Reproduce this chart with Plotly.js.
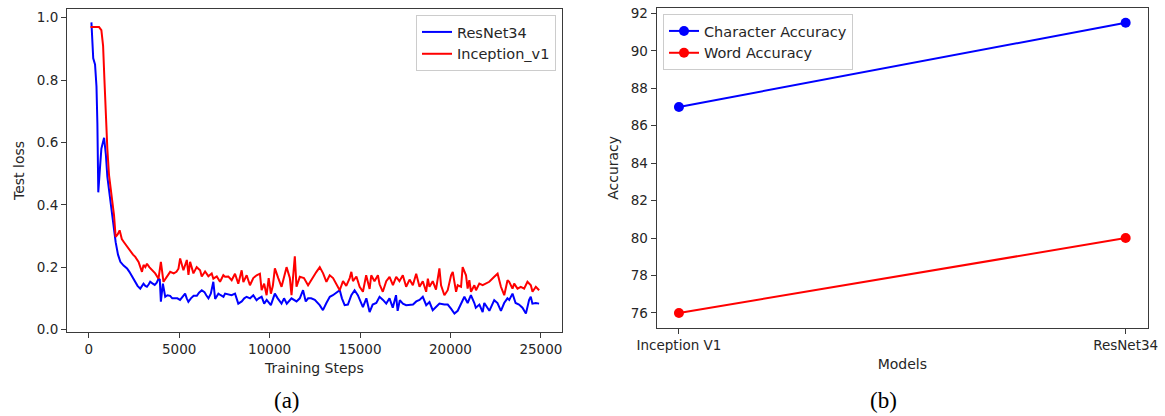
<!DOCTYPE html>
<html>
<head>
<meta charset="utf-8">
<script src="https://cdn.plot.ly/plotly-3.0.1.min.js"></script>
<style>
  html, body { margin: 0; padding: 0; background: #ffffff; }
  #chart { width: 1165px; height: 416px; }
</style>
</head>
<body>
<div id="chart"></div>
<script>
// ---------- Panel (a): test loss vs training steps ----------
const resnetSteps = [
  150, 250, 350, 430, 480, 530, 600, 700, 850, 950, 1030, 1120, 1210, 1350, 1490,
  1620, 1750, 1930, 2120, 2250, 2400, 2550, 2700, 2850, 2950, 3030, 3130, 3220, 3320, 3400, 3520, 3650, 3760, 3860, 3930, 3990,
  4100, 4230, 4350, 4500, 4620, 4780, 4900, 5050, 5200, 5330, 5420, 5510, 5650, 5800, 5980, 6100, 6250, 6400, 6500, 6620, 6750, 6890, 6990, 7170,
  7300, 7450, 7540, 7700, 7900, 8090, 8270, 8460, 8600, 8730, 8920, 9100, 9280, 9400, 9560, 9700, 9840, 10070, 10290, 10450, 10660, 10800, 10950, 11210, 11490, 11670, 11850, 12000, 12130, 12300, 12500, 12770, 12950, 13140, 13330,
  13500, 13700, 13880, 14000, 14150, 14330, 14520, 14700, 14880, 15160, 15350, 15530, 15700, 15900, 16080, 16270, 16450, 16630, 16810, 16990, 17080, 17200, 17370, 17550, 17740, 17930, 18110, 18290, 18470, 18660, 18840, 19020, 19200, 19390,
  19660, 19850, 20030, 20220, 20400, 20580, 20770, 20950, 21130, 21320, 21400, 21600, 21780, 21870, 22050, 22150, 22420, 22600, 22790, 22970, 23150, 23250, 23430, 23600, 23790, 23980, 24170, 24350, 24440, 24530, 24720, 24900
];
const resnetLoss = [
  0.985, 0.87, 0.85, 0.78, 0.66, 0.44, 0.50, 0.58, 0.615, 0.56, 0.49, 0.45, 0.41, 0.34, 0.28,
  0.24, 0.217, 0.205, 0.196, 0.185, 0.169, 0.155, 0.14, 0.131, 0.14, 0.147, 0.14, 0.137, 0.145, 0.153, 0.148, 0.143, 0.15, 0.163, 0.16, 0.089,
  0.147, 0.105, 0.11, 0.108, 0.1, 0.099, 0.1, 0.095, 0.105, 0.115, 0.1, 0.089, 0.1, 0.108, 0.108, 0.118, 0.126, 0.12, 0.11, 0.1, 0.115, 0.153, 0.098, 0.115,
  0.11, 0.105, 0.115, 0.112, 0.11, 0.115, 0.083, 0.09, 0.1, 0.105, 0.1, 0.11, 0.094, 0.1, 0.105, 0.083, 0.095, 0.078, 0.115, 0.1, 0.083, 0.1, 0.083, 0.1, 0.09, 0.1, 0.126, 0.09, 0.1, 0.1, 0.095, 0.078, 0.062, 0.085, 0.105,
  0.11, 0.118, 0.126, 0.1, 0.078, 0.08, 0.11, 0.126, 0.11, 0.072, 0.1, 0.056, 0.08, 0.085, 0.105, 0.095, 0.083, 0.1, 0.07, 0.11, 0.06, 0.094, 0.083, 0.078, 0.078, 0.08, 0.09, 0.095, 0.105, 0.078, 0.088, 0.062, 0.072, 0.083,
  0.08, 0.08, 0.067, 0.051, 0.06, 0.08, 0.105, 0.085, 0.11, 0.085, 0.07, 0.08, 0.056, 0.085, 0.07, 0.06, 0.094, 0.085, 0.06, 0.085, 0.1, 0.095, 0.115, 0.085, 0.08, 0.07, 0.051, 0.095, 0.105, 0.083, 0.085, 0.083
];
const inceptionSteps = [
  100, 200, 400, 570, 700, 795, 870, 940, 1030, 1125, 1250, 1400, 1490, 1600, 1710, 1830, 1950,
  2120, 2300, 2450, 2575, 2757, 2944, 3032, 3130, 3220, 3350, 3495, 3677, 3860, 3990, 4135, 4320, 4504, 4700, 4850, 4962, 5055, 5237, 5425, 5515, 5607, 5789, 5970, 6158, 6250, 6434, 6616, 6800, 6892, 7080, 7261, 7443,
  7536, 7720, 7905, 8088, 8270, 8457, 8550, 8733, 8914, 9100, 9284, 9466, 9560, 9700, 9835, 9950, 10072, 10180, 10293, 10480, 10662, 10850, 10938, 11120, 11213, 11395, 11488, 11671, 11900, 12128, 12360, 12591, 12774, 12960, 13143,
  13325, 13510, 13700, 13877, 14060, 14240, 14430, 14521, 14610, 14800, 14980, 15161, 15340, 15530, 15620, 15800, 15988, 16080, 16260, 16450, 16633, 16820, 17000, 17180, 17366, 17550, 17740, 17920, 18105, 18290, 18470, 18656, 18750, 18840, 19020, 19200, 19389,
  19480, 19665, 19848, 20034, 20127, 20218, 20310, 20402, 20585, 20674, 20860, 20950, 21043, 21136, 21320, 21413, 21596, 21780, 21963, 22146, 22422, 22606, 22790, 22973, 23155, 23247, 23430, 23522, 23706, 23890, 24074, 24257, 24444, 24536, 24720, 24903
];
const inceptionLoss = [
  0.97, 0.97, 0.972, 0.97, 0.96, 0.91, 0.8, 0.687, 0.58, 0.494, 0.43, 0.366, 0.297, 0.305, 0.318, 0.29, 0.28,
  0.265, 0.249, 0.24, 0.233, 0.217, 0.185, 0.207, 0.2, 0.211, 0.2, 0.19, 0.18, 0.163, 0.217, 0.153, 0.17, 0.185, 0.18, 0.185, 0.195, 0.228, 0.19, 0.223, 0.175, 0.217, 0.18, 0.2, 0.19, 0.17, 0.186, 0.171, 0.18, 0.163, 0.17, 0.153, 0.174,
  0.169, 0.17, 0.158, 0.179, 0.147, 0.19, 0.152, 0.174, 0.142, 0.165, 0.174, 0.179, 0.126, 0.147, 0.11, 0.165, 0.115, 0.14, 0.196, 0.165, 0.137, 0.18, 0.2, 0.165, 0.11, 0.235, 0.137, 0.169, 0.165, 0.142, 0.165, 0.185, 0.2, 0.18, 0.153,
  0.174, 0.165, 0.147, 0.126, 0.155, 0.14, 0.165, 0.185, 0.155, 0.17, 0.137, 0.121, 0.174, 0.13, 0.174, 0.155, 0.174, 0.145, 0.121, 0.155, 0.169, 0.142, 0.169, 0.155, 0.174, 0.137, 0.16, 0.142, 0.179, 0.137, 0.155, 0.121, 0.163, 0.137, 0.155, 0.128, 0.196,
  0.142, 0.11, 0.126, 0.174, 0.185, 0.153, 0.121, 0.142, 0.137, 0.2, 0.174, 0.131, 0.158, 0.121, 0.142, 0.126, 0.147, 0.142, 0.147, 0.153, 0.169, 0.179, 0.137, 0.11, 0.158, 0.153, 0.131, 0.147, 0.131, 0.137, 0.131, 0.153, 0.142, 0.121, 0.137, 0.126
];
const stepTicks = [0, 5000, 10000, 15000, 20000, 25000];
const stepTickText = ["0", "5000", "10000", "15000", "20000", "25000"];
const lossTicks = [0.0, 0.2, 0.4, 0.6, 0.8, 1.0];

// ---------- Panel (b): accuracy by model ----------
const models = ["Inception V1", "ResNet34"];
const characterAccuracy = [87, 91.5];
const wordAccuracy = [76, 80];
const accuracyTicks = [76, 78, 80, 82, 84, 86, 88, 90, 92];

const FONT = "DejaVu Sans, Arial, sans-serif";
const TXT = "#262626";
const W = 1165, H = 416;

const traces = [
  { x: resnetSteps, y: resnetLoss, type: "scatter", mode: "lines", name: "ResNet34",
    line: { color: "#0000ff", width: 2 }, xaxis: "x", yaxis: "y", legend: "legend" },
  { x: inceptionSteps, y: inceptionLoss, type: "scatter", mode: "lines", name: "Inception_v1",
    line: { color: "#ff0000", width: 2 }, xaxis: "x", yaxis: "y", legend: "legend" },
  { x: models, y: characterAccuracy, type: "scatter", mode: "lines+markers", name: "Character Accuracy",
    line: { color: "#0000ff", width: 2 }, marker: { color: "#0000ff", size: 10 },
    xaxis: "x2", yaxis: "y2", legend: "legend2" },
  { x: models, y: wordAccuracy, type: "scatter", mode: "lines+markers", name: "Word Accuracy",
    line: { color: "#ff0000", width: 2 }, marker: { color: "#ff0000", size: 10 },
    xaxis: "x2", yaxis: "y2", legend: "legend2" }
];

const axisCommon = {
  showgrid: false, zeroline: false, showline: true, mirror: true,
  linecolor: "#3a3a3a", linewidth: 1, ticks: "outside", ticklen: 5,
  tickcolor: "#3a3a3a", tickwidth: 1, automargin: false,
  tickfont: { family: FONT, size: 13.5, color: TXT }
};

const layout = {
  width: W, height: H,
  margin: { l: 0, r: 0, t: 0, b: 0, pad: 0 },
  paper_bgcolor: "#ffffff", plot_bgcolor: "#ffffff",
  font: { family: FONT, size: 13.5, color: TXT },
  xaxis: Object.assign({}, axisCommon, {
    domain: [67 / W, 561.7 / W], anchor: "y",
    range: [-1200, 26150], tickvals: stepTicks, ticktext: stepTickText,
    title: { text: "Training Steps", standoff: 6, font: { family: FONT, size: 14, color: TXT } }
  }),
  yaxis: Object.assign({}, axisCommon, {
    domain: [1 - 332 / H, 1 - 9 / H], anchor: "x",
    range: [-0.008, 1.028], tickvals: lossTicks, tickformat: ".1f",
    title: { text: "Test loss", standoff: 8, font: { family: FONT, size: 14, color: TXT } }
  }),
  xaxis2: Object.assign({}, axisCommon, {
    domain: [656.6 / W, 1148 / W], anchor: "y2", type: "category",
    range: [-0.05, 1.05],
    title: { text: "Models", standoff: 7, font: { family: FONT, size: 14, color: TXT } }
  }),
  yaxis2: Object.assign({}, axisCommon, {
    domain: [1 - 327.5 / H, 1 - 8.2 / H], anchor: "x2",
    range: [75.225, 92.275], tickvals: accuracyTicks,
    title: { text: "Accuracy", standoff: 8, font: { family: FONT, size: 14, color: TXT } }
  }),
  legend: {
    x: 556 / W, y: 1 - 15 / H, xanchor: "right", yanchor: "top",
    bgcolor: "rgba(255,255,255,0.8)", bordercolor: "#cccccc", borderwidth: 1,
    font: { family: FONT, size: 14.5, color: TXT }
  },
  legend2: {
    x: 663 / W, y: 1 - 14 / H, xanchor: "left", yanchor: "top",
    bgcolor: "rgba(255,255,255,0.8)", bordercolor: "#cccccc", borderwidth: 1,
    font: { family: FONT, size: 14.5, color: TXT }
  },
  showlegend: true,
  annotations: [
    { text: "(a)", xref: "paper", yref: "paper", x: 287 / W, y: 1 - 400 / H,
      xanchor: "center", yanchor: "middle", showarrow: false,
      font: { family: "Liberation Serif, Times New Roman, serif", size: 23, color: "#000000" } },
    { text: "(b)", xref: "paper", yref: "paper", x: 883 / W, y: 1 - 400 / H,
      xanchor: "center", yanchor: "middle", showarrow: false,
      font: { family: "Liberation Serif, Times New Roman, serif", size: 23, color: "#000000" } }
  ]
};

Plotly.newPlot("chart", traces, layout, { staticPlot: true, displayModeBar: false });
</script>
</body>
</html>
